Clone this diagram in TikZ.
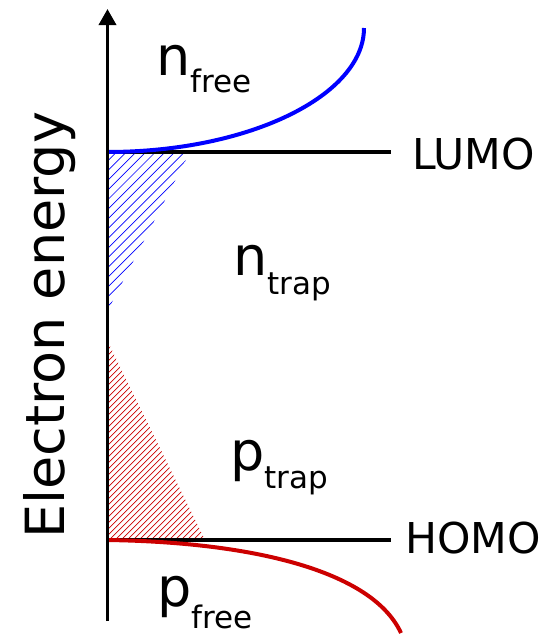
\documentclass[tikz,border=0pt]{standalone}
\usepackage{fontspec}
\setmainfont{DejaVu Sans}
\usetikzlibrary{arrows.meta}
\definecolor{myred}{RGB}{204,0,0}
\definecolor{myblue}{RGB}{0,0,255}
\begin{document}
\begin{tikzpicture}[x=1pt,y=-1pt,
  level/.style={line width=3.5pt},
  lbl/.style={anchor=base west,inner sep=0pt,font=\fontsize{42.5}{42.5}\selectfont},
  carrier/.style={anchor=base west,inner sep=0pt,font=\fontsize{54}{54}\selectfont},
  hatchline/.style={line width=0.7pt}]
\useasboundingbox (0,0) rectangle (557,635);
% hatching
\begin{scope}
  \clip (107,152) -- (190,152) -- (107,312) -- cycle;
  \foreach \i in {0,...,18} \draw[myblue,hatchline] (107,{152+\i*9.7}) -- ++(200,-200);
\end{scope}
\begin{scope}
  \clip (107,340) -- (205,540) -- (107,540) -- cycle;
  \foreach \i in {0,...,52} \draw[myred,hatchline] (107,{338+\i*6}) -- ++(250,-250);
\end{scope}
% levels
\coordinate (l0) at (107,152);
\coordinate (l1) at (391,152);
\coordinate (h0) at (107,540);
\coordinate (h1) at (391,540);
\draw[level] (l0) -- (l1);
\draw[level] (h0) -- (h1);
% curves
\coordinate (b1) at (364,28);
\coordinate (r1) at (401,633);
\draw[myblue,line width=4pt] (l0) .. controls (250,152) and (364,95) .. (b1);
\draw[myred,line width=4pt] (h0) .. controls (250,542) and (372,570) .. (r1);
% axis
\coordinate (a0) at (107.5,621);
\coordinate (a1) at (107.5,9);
\draw[line width=3.5pt,-{Triangle[length=16pt,width=17pt]}] (a0) -- (a1);
% labels
\node[lbl] (lumo) at (412,169) {LUMO};
\node[lbl] (homo) at (405,553) {HOMO};
\node[anchor=base west,inner sep=0pt,rotate=90,font=\fontsize{54}{54}\selectfont] (ylab) at (64,539) {Electron energy};
\node[carrier] (nfree) at (156,75) {n\raisebox{-17pt}{\fontsize{31}{31}\selectfont free}};
\node[carrier] (ntrap) at (233,275) {n\raisebox{-19pt}{\fontsize{31}{31}\selectfont trap}};
\node[carrier] (ptrap) at (230,470) {p\raisebox{-18pt}{\fontsize{31}{31}\selectfont trap}};
\node[carrier] (pfree) at (157,606) {p\raisebox{-22pt}{\fontsize{31}{31}\selectfont free}};
\end{tikzpicture}
\end{document}
